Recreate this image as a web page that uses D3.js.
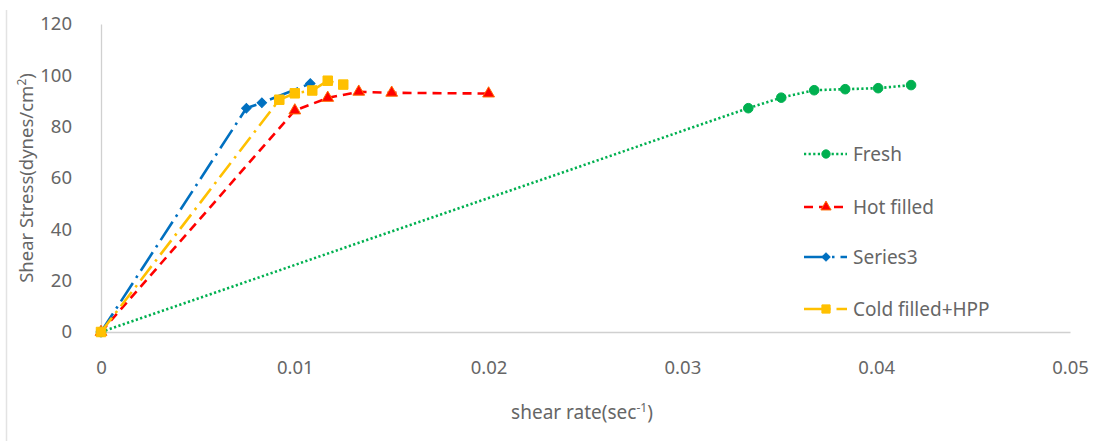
<!DOCTYPE html>
<html><head><meta charset="utf-8">
<script src="https://cdn.jsdelivr.net/npm/d3@7"></script>
<style>body{margin:0;background:#fff}svg{display:block}text{font-family:"Noto Sans",sans-serif;fill:#666}</style>
</head><body><svg id="c" width="1100" height="441"></svg>
<script>
const xTicks = [0, 0.01, 0.02, 0.03, 0.04, 0.05];
const xTickLabels = ["0", "0.01", "0.02", "0.03", "0.04", "0.05"];
const yTicks = [0, 20, 40, 60, 80, 100, 120];

const freshX = [0, 0.0334, 0.0351, 0.0368, 0.0384, 0.0401, 0.0418];
const freshY = [0, 87.2, 91.3, 94.2, 94.6, 95.0, 96.2];
const hotX = [0, 0.0100, 0.0117, 0.0133, 0.0150, 0.0200];
const hotY = [0, 86.3, 91.2, 93.6, 93.2, 92.9];
const s3X = [0, 0.0075, 0.0083, 0.0108];
const s3Y = [0, 87.2, 89.3, 96.8];
const coldX = [0, 0.0092, 0.0100, 0.0109, 0.0117, 0.0125];
const coldY = [0, 90.5, 93.0, 94.1, 97.9, 96.4];
const seriesNames = ["Fresh", "Hot filled", "Series3", "Cold filled+HPP"];

const svg = d3.select("#c");
const x = d3.scaleLinear().domain([0, 0.05]).range([101, 1070]);
const y = d3.scaleLinear().domain([0, 120]).range([332, 24]);

svg.append("line").attr("x1", 6.5).attr("x2", 6.5).attr("y1", 10).attr("y2", 441)
  .attr("stroke", "#e3e3e3").attr("stroke-width", 1.5);

const xa = svg.append("g").attr("transform", "translate(0,332)")
  .call(d3.axisBottom(x).tickValues(xTicks).tickFormat((d, i) => xTickLabels[i]).tickSize(0).tickPadding(29));
xa.select(".domain").attr("stroke", "#d0d0d0").attr("stroke-width", 1.3);
xa.selectAll("text").style("font-size", "18.5px").attr("fill", "#666").attr("font-family", "Noto Sans");

const ya = svg.append("g").attr("transform", "translate(101,0)")
  .call(d3.axisLeft(y).tickValues(yTicks).tickSize(0).tickPadding(29));
ya.select(".domain").attr("stroke", "#d0d0d0").attr("stroke-width", 1.3);
ya.selectAll("text").style("font-size", "18.5px").attr("fill", "#666").attr("font-family", "Noto Sans");

const yt = svg.append("text").attr("transform", "translate(33,178) rotate(-90)")
  .attr("text-anchor", "middle").style("font-size", "18.5px");
yt.append("tspan").text("Shear Stress(dynes/cm");
yt.append("tspan").text("2").attr("dy", -7).style("font-size", "12px");
yt.append("tspan").text(")").attr("dy", 7);

const xt = svg.append("text").attr("x", 582).attr("y", 419)
  .attr("text-anchor", "middle").style("font-size", "19px");
xt.append("tspan").text("shear rate(sec");
xt.append("tspan").text("-1").attr("dy", -7).style("font-size", "12px");
xt.append("tspan").text(")").attr("dy", 7);

const styles = [
  {xs: freshX, ys: freshY, color: "#00B050", dash: "2.2,2.4", w: 2.6, marker: "circle"},
  {xs: hotX, ys: hotY, color: "#FF0000", dash: "9,6", w: 2.6, marker: "triangle"},
  {xs: s3X, ys: s3Y, color: "#0070C0", dash: "22,6,2.5,6", w: 2.6, marker: "diamond"},
  {xs: coldX, ys: coldY, color: "#FFC000", dash: "18,6,2.5,6", w: 2.6, marker: "square"}
];
const symType = {circle: d3.symbolCircle, triangle: d3.symbolTriangle, diamond: d3.symbolSquare, square: d3.symbolSquare};
const symSize = {circle: 72, triangle: 60, diamond: 45, square: 90};
const symRot = {circle: 0, triangle: 0, diamond: 45, square: 0};

const line = d3.line().x(d => x(d[0])).y(d => y(d[1]));
styles.forEach(s => {
  const pts = s.xs.map((v, i) => [v, s.ys[i]]);
  svg.append("path").datum(pts).attr("d", line).attr("fill", "none")
    .attr("stroke", s.color).attr("stroke-width", s.w).attr("stroke-dasharray", s.dash);
});
styles.forEach(s => {
  const pts = s.xs.map((v, i) => [v, s.ys[i]]);
  svg.append("g").selectAll("path").data(pts).join("path")
    .attr("transform", d => `translate(${x(d[0])},${y(d[1])}) rotate(${symRot[s.marker]})`)
    .attr("d", d3.symbol().type(symType[s.marker]).size(symSize[s.marker]))
    .attr("fill", s.color).attr("stroke", s.marker === "triangle" ? "#FF6A00" : s.color).attr("stroke-width", 1);
});

const legY = [154, 207, 257, 309];
styles.forEach((s, i) => {
  const g = svg.append("g").attr("transform", `translate(0,${legY[i]})`);
  g.append("line").attr("x1", 804).attr("x2", 847).attr("y1", 0).attr("y2", 0)
    .attr("stroke", s.color).attr("stroke-width", s.w).attr("stroke-dasharray", s.dash);
  g.append("path").attr("transform", `translate(826,0) rotate(${symRot[s.marker]})`)
    .attr("d", d3.symbol().type(symType[s.marker]).size(symSize[s.marker] * 0.75))
    .attr("fill", s.color).attr("stroke", s.marker === "triangle" ? "#FF6A00" : s.color).attr("stroke-width", 1);
  g.append("text").attr("x", 853).attr("y", 0).attr("dy", "0.35em").style("font-size", "19px").text(seriesNames[i]);
});
</script></body></html>
